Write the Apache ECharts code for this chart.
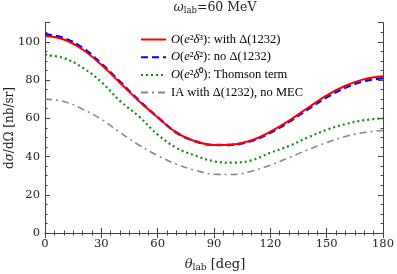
<!DOCTYPE html>
<html><head><meta charset="utf-8">
<script src="https://cdn.jsdelivr.net/npm/echarts@6/dist/echarts.min.js"></script>
<style>html,body{margin:0;padding:0;background:#fff}#c{width:397px;height:274px}</style>
</head><body><div id="c"></div>
<script>
const angles = [0,10,20,30,40,50,60,70,80,90,100,110,120,130,140,150,160,170,180];
const withDelta = [103,101.2,96,88,78.5,69,60.5,52.5,48,46,46.3,48.5,53,58.8,65.5,72,77,80.5,82];
const noDelta   = [104,102,96.8,88.6,79,69.3,60.6,52.5,48,46,46.2,48.2,52.5,58.2,64.7,71,76,79.5,81];
const thomson   = [93.2,91.5,86.5,79,69,61,51.5,44.5,40.5,37.5,36.8,38,42,45.5,50,54,57,59,60];
const iaNoMEC   = [70,68.8,64.8,59.5,52.5,46,40.5,36,32.8,30.8,30.6,32.3,35.5,39.5,43.5,47.3,50.5,52.6,53.6];
const xTicks = [0,30,60,90,120,150,180];
const yTicks = [0,20,40,60,80,100];
const names = ['O(e²δ³): with Δ(1232)','O(e²δ²): no Δ(1232)','O(e²δ⁰): Thomson term','IA with Δ(1232), no MEC'];

const F = 'Liberation Serif, serif';
const D = 'DejaVu Serif, serif';
const AX = '#444';
const pairs = v => angles.map((a,i)=>[a,v[i]]);
const chart = echarts.init(document.getElementById('c'), null, {renderer:'canvas'});
const legendRich = {
  it:{fontFamily:F,fontStyle:'italic',fontSize:12.5,color:'#000'},
  n:{fontFamily:F,fontSize:12.5,color:'#000'}
};
function legendFmt(name){
  const idx = names.indexOf(name);
  if(idx===3) return '{n|'+name+'}';
  const sup = name.substring(3,4), sup2 = name.substring(5,6);
  const rest = name.substring(6);
  return '{it|O}{n|(}{it|e}{n|'+sup+'}{it|δ}{n|'+sup2+rest+'}';
}
const yGrid = {left:45, right:11.5, top:22.7, bottom:41};
const baseY = (pos, major, showLabel) => ({
  type:'value', min:0, max:110, interval: major?20:5, position:pos,
  axisLine:{show:major, lineStyle:{color:AX,width:1}},
  axisTick:{show:true, inside:true, length: major?5:2.5, lineStyle:{color:AX}},
  axisLabel:{show:showLabel, fontFamily:D, fontSize:11.5, color:'#222', margin:5,
    formatter: v => (yTicks.indexOf(v)>=0 ? String(v) : '')},
  splitLine:{show:false}
});
const baseX = (pos, showLabel) => ({
  type:'value', min:0, max:180, interval:30, position:pos,
  axisLine:{show:true, lineStyle:{color:AX,width:1}},
  axisTick:{show:true, inside:true, length:5, lineStyle:{color:AX}},
  minorTick:{show:true, splitNumber:6, length:2.5, lineStyle:{color:AX}},
  axisLabel:{show:showLabel, fontFamily:D, fontSize:11.5, color:'#222', margin:5,
    formatter: v => (xTicks.indexOf(v)>=0 ? String(v) : '')},
  splitLine:{show:false}
});
const ser = (i, data, color, width, type) => ({
  name:names[i], type:'line', xAxisIndex:0, yAxisIndex:0, data:pairs(data),
  smooth:0.4, symbol:'none', z: 10-i,
  lineStyle:{color:color, width:width, type:type, cap:'butt'},
  itemStyle:{color:color}
});
chart.setOption({
  animation:false,
  grid:yGrid,
  title:{
    text:'{w|ω}{s|lab}{n|=60 MeV}', left:215, top:0, textAlign:'center', padding:0,
    textStyle:{fontWeight:'normal', rich:{
      w:{fontFamily:D,fontStyle:'italic',fontWeight:'normal',fontSize:12.5,color:'#222'},
      s:{fontFamily:D,fontWeight:'normal',fontSize:8.5,color:'#222',padding:[6,0,0,0]},
      n:{fontFamily:D,fontWeight:'normal',fontSize:12.5,color:'#222'}
    }}
  },
  legend:{
    data:names, left:140, top:33, orient:'vertical', padding:0,
    itemWidth:25, itemHeight:12, itemGap:4.7,
    itemStyle:{opacity:0},
    textStyle:{rich:legendRich, padding:[0,0,0,0]},
    formatter:legendFmt
  },
  xAxis:[baseX('bottom',true), baseX('top',false)],
  yAxis:[baseY('left',true,true), baseY('left',false,false), baseY('right',true,false), baseY('right',false,false)],
  graphic:[
    {type:'text', x:215, y:265, style:{rich:{
       t:{fontFamily:D,fontStyle:'italic',fontSize:13,fill:'#222'},
       s:{fontFamily:D,fontSize:9,fill:'#222',padding:[6,0,0,0]},
       n:{fontFamily:D,fontSize:13,fill:'#222'}},
       text:'{t|θ}{s|lab}{n| [deg]}', align:'center', verticalAlign:'middle'}},
    {type:'text', x:10, y:128, rotation:Math.PI/2, style:{rich:{
       n:{fontFamily:D,fontSize:12,fill:'#222'},
       t:{fontFamily:D,fontStyle:'italic',fontSize:12,fill:'#222'}},
       text:'{n|d}{t|σ}{n|/dΩ [nb/sr]}', align:'center', verticalAlign:'middle'}}
  ],
  series:[
    ser(0, withDelta, '#ff0000', 2, 'solid'),
    ser(1, noDelta, '#0000ff', 2.5, [7,4]),
    ser(2, thomson, '#138a13', 2.2, [2,3]),
    ser(3, iaNoMEC, '#888888', 1.6, [7,4,2,4])
  ]
});
</script></body></html>
